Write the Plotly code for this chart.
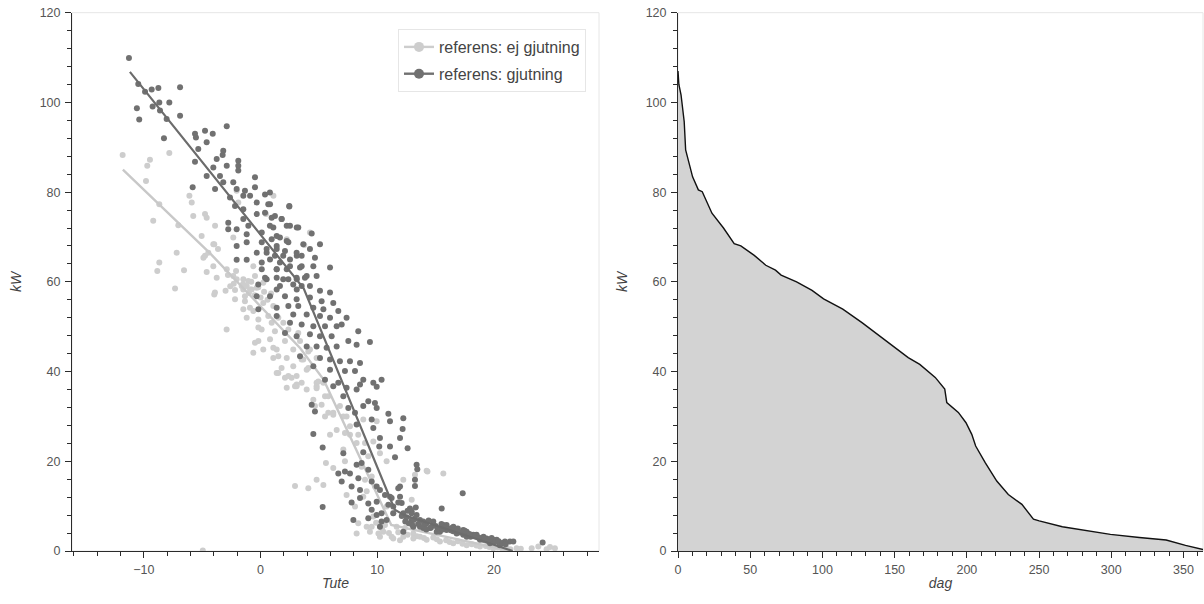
import plotly.graph_objects as go

# ---------------- data ----------------
# scatter: referens: gjutning (dark)  (Tute, kW)
gj_pts = [
    (-11.28,109.9),(-10.48,104.1),(-9.9,102.4),(-9.33,102.9),(-8.76,103.2),(-6.9,103.4),(-10.6,98.7),(-10.4,96.2),
    (-8.68,100.0),(-7.82,100.0),(-9.25,99.1),(-8.62,98.2),(-6.9,97.0),(-8.05,96.3),(-8.28,92.0),(-5.62,93.0),
    (-4.76,93.7),(-4.1,93.0),(-2.9,94.7),(-5.54,92.2),(-4.62,91.1),(-5.34,89.6),(-3.2,89.2),(-3.76,87.4),
    (-3.25,88.3),(-5.62,86.8),(-1.91,87.0),(-2.9,85.9),(-1.91,85.9),(-4.05,85.5),(-4.62,83.6),(-3.48,83.6),
    (-1.91,84.8),(-0.48,83.3),(-3.2,82.2),(-3.9,80.7),(-5.82,81.1),(-2.34,82.2),(-2.05,80.7),(-1.34,80.3),
    (-0.48,81.1),(-2.62,78.8),(-1.48,79.2),(-0.9,79.2),(0.38,79.5),(-0.33,77.7),(0.66,77.3),(0.8,79.9),
    (2.46,76.9),(-2.19,76.9),(-1.48,76.2),(-0.33,75.1),(0.38,75.4),(1.23,74.7),(-2.77,73.2),(-1.48,74.0),
    (-2.05,71.7),(-1.05,72.5),(-2.77,71.7),(1.81,74.0),(2.24,72.5),(3.1,72.1),(0.8,72.5),(-1.19,70.6),
    (0.1,71.0),(1.38,70.2),(-2.05,68.0),(-1.19,68.8),(0.1,68.8),(1.38,68.0),(2.24,69.1),(3.66,68.4),
    (-2.05,64.9),(-1.19,64.9),(-0.33,66.5),(0.52,66.5),(0.1,64.3),(1.23,65.8),(1.94,65.8),(3.1,65.8),
    (0.1,62.8),(1.38,62.8),(2.52,63.5),(3.52,63.5),(0.52,60.6),(1.94,60.6),(3.1,60.6),(3.95,61.3),
    (1.38,58.3),(3.1,58.3),(-0.2,59.4),
    (0.81,77.3),(2.46,76.8),(0.95,74.3),(1.8,74.0),(2.52,72.5),(3.23,72.1),(4.38,70.8),(1.09,72.1),
    (0.95,69.5),(1.66,69.9),(2.38,68.8),(5.09,68.4),(0.52,67.3),(1.38,67.3),(2.09,66.9),(3.09,66.5),
    (4.23,67.3),(0.81,65.0),(1.66,64.3),(2.52,65.0),(3.52,65.8),(4.66,65.4),(5.95,63.2),(1.38,62.8),
    (2.24,62.8),(3.38,63.2),(4.52,63.5),(0.38,60.9),(1.38,60.9),(2.38,60.6),(3.09,60.9),(3.8,60.9),
    (4.8,61.3),(1.66,59.1),(2.8,59.4),(3.52,59.1),(4.23,59.1),(5.09,58.0),(5.95,57.6),(-0.34,56.8),
    (0.81,56.8),(2.09,56.8),(3.09,56.1),(4.23,56.5),(5.23,55.7),(6.23,55.3),(-0.19,53.9),(1.38,54.2),
    (2.38,54.6),(3.23,54.6),(4.52,54.2),(5.38,53.9),(6.66,53.5),(7.37,52.0),(1.38,52.4),(2.8,52.7),
    (3.95,52.7),(5.09,52.4),(5.95,52.0),(2.52,50.9),(3.52,50.5),(4.52,50.1),(5.52,50.1),(6.52,50.1),
    (8.37,49.0),(6.95,50.5),(2.09,48.6),(3.09,47.9),(4.23,48.3),(5.09,47.9),(6.09,47.9),(7.52,46.8),
    (9.37,46.6),(8.23,46.0),(3.95,45.6),(4.8,45.6),(5.66,45.3),(6.52,45.6),(3.38,43.4),(5.09,43.0),
    (5.95,42.7),(6.8,42.3),(7.66,42.3),(8.52,41.9),(4.52,41.2),(5.95,40.4),(7.23,40.1),(8.09,40.1),
    (8.8,38.2),(9.66,37.5),(10.37,38.2),(6.66,37.5),(7.37,36.4),(8.23,36.0),(5.52,38.2),(6.23,36.7),
    (7.09,34.5),(8.52,37.1),(9.95,36.6),
    (4.52,26.1),(5.32,23.1),(5.32,9.8),(4.38,32.6),(4.66,31.1),(7.09,21.8),(7.23,17.7),(7.66,17.3),
    (6.66,17.3),(7.8,14.4),(6.95,15.5),(7.8,10.8),(7.95,6.9),(8.52,13.6),(8.23,19.2),(8.66,19.6),
    (8.8,22.0),(9.23,18.1),(9.23,10.6),(8.52,11.8),(8.38,16.2),(9.52,15.5),(9.95,14.4),(9.52,9.2),
    (9.95,8.0),(9.23,7.3),(10.37,8.4),(10.8,6.9),(10.23,5.4),(10.95,10.3),(11.23,11.8),(11.37,9.9),
    (11.95,12.1),(11.95,14.4),(11.8,14.0),(12.23,29.6),(10.95,30.6),(11.09,28.9),(12.17,27.2),(11.95,25.2),
    (12.6,22.9),(11.52,20.9),(11.09,23.3),(10.23,25.2),(10.17,23.3),(9.66,27.4),(9.52,29.3),(9.95,31.9),
    (9.23,33.4),(9.8,33.0),(8.8,32.3),(8.09,30.8),(8.23,28.2),(7.52,31.9),(13.37,19.2),(13.43,18.2),
    (13.23,15.9),(13.23,14.5),(15.52,9.5),(17.32,12.9),(11.8,10.8),(12.23,8.4),(12.95,8.8),(12.95,6.9),
    (13.66,6.9),(14.23,6.2),(14.8,5.8),(15.66,5.8),(16.52,5.4),(17.37,4.7),(18.23,3.6),(19.1,3.2),
    (19.94,2.5),(20.8,1.7),(21.37,2.1),(24.17,1.9),(13.09,5.4),(13.94,5.1),(15.09,4.3),(15.94,4.7),
    (16.8,3.9),(17.66,3.2),(18.8,2.5),(19.66,1.7),(20.5,1.3),(10.66,12.5),(10.23,13.6),(9.95,11.0),
    (11.09,12.1),
    (12.09,10.7),(12.8,9.5),(12.94,8.4),(13.37,8.0),(11.37,8.4),(13.09,6.9),(13.94,6.6),(14.8,6.6),
    (15.94,5.8),(16.8,4.7),(17.66,4.3),(18.51,3.6),(19.37,2.8),(20.23,2.5),(20.94,2.1),(21.66,2.1),
    (10.37,6.6),(12.23,4.3),(13.66,5.4),(14.51,5.1),(15.37,4.3),(16.37,5.1),(17.37,3.6),(19.08,2.5),
    (12.5,7.5),(12.7,6.2),(13.2,7.2),(13.5,6.0),(14.0,5.5),(14.4,6.8),(14.6,5.2),(15.2,5.0),
    (15.5,6.0),(15.8,5.3),(16.1,4.9),(16.5,4.4),(16.9,5.0),(17.1,4.1),(17.5,4.5),(17.9,3.8),
    (18.0,3.2),(18.4,3.4),(18.7,3.0),(19.2,2.8),(19.5,2.3),(19.8,2.9),(20.1,2.0),(20.4,2.2),
    (20.7,1.8),(21.0,1.5),(12.4,6.6),(13.0,5.8),(14.2,4.8),(15.0,5.6),(15.6,4.8),(16.3,4.6),
    (12.1,7.8),(12.6,9.0),(13.3,9.7),
]

# scatter: referens: ej gjutning (light)  (Tute, kW)
ej_pts = [
    (-11.82,88.3),(-9.48,87.2),(-9.71,85.9),(-7.82,88.7),(-9.82,82.5),(-8.68,77.3),(-9.2,73.6),(-7.05,72.6),
    (-6.1,79.2),(-5.9,77.7),(-5.77,74.7),(-4.76,75.1),(-4.62,74.3),(-3.9,72.5),(-5.05,70.2),(-4.05,68.4),
    (-7.19,66.5),(-8.68,64.3),(-8.85,62.4),(-6.56,62.6),(-4.9,65.4),(-4.48,66.5),(-4.62,62.2),(-3.76,60.9),
    (-7.33,58.5),(-2.9,62.8),(-2.1,62.4),(-2.05,60.6),(-1.48,60.6),(-0.62,63.5),(-0.48,61.3),(-2.19,58.2),
    (-1.19,59.1),(0.23,59.8),(-0.9,58.3),(2.24,69.5),(4.23,71.0),(1.1,79.2),(-3.97,57.2),(-3.65,67.3),
    (-3.97,68.4),(3.74,68.2),(0.46,75.1),
    (-2.05,80.3),(-1.91,77.7),(-2.34,69.9),(-2.34,61.3),(-1.05,60.2),(-1.62,59.1),(-0.76,58.3),(-0.34,58.7),
    (-1.34,56.8),(-2.19,56.1),(0.23,55.3),(-0.91,54.2),(1.09,54.6),(-1.48,53.9),(0.66,52.4),(1.52,52.0),
    (-1.19,52.0),(-0.19,51.6),(1.95,50.9),(0.95,50.9),(0.09,49.4),(1.23,49.0),(2.38,49.4),(3.23,48.6),
    (-0.19,46.8),(0.81,47.2),(2.09,46.8),(3.38,46.8),(0.23,44.9),(1.38,44.9),(2.8,44.9),(4.09,44.5),
    (-0.48,46.4),(-0.62,44.2),(1.09,43.0),(2.24,43.0),(3.52,42.7),(4.8,43.0),(2.8,41.2),(4.09,40.8),
    (1.52,39.7),(2.09,38.6),(2.66,38.6),(3.09,37.1),(3.95,36.0),(4.8,37.5),(5.52,34.5),
    (-4.76,65.8),(-4.05,63.5),(-3.91,57.6),(-2.91,49.4),(-1.48,58.3),(-1.34,55.7),(-0.62,53.5),(-0.19,49.8),
    (1.09,45.3),(1.52,43.4),(1.8,40.8),(1.38,39.7),(2.38,39.0),(3.09,39.0),(2.24,36.4),(2.95,36.7),
    (3.66,42.7),(3.95,40.4),(4.8,36.7),(4.52,33.7),(5.23,32.6),(5.8,34.5),(6.23,30.8),(5.52,30.0),
    (6.52,27.0),(7.37,30.0),(7.66,25.9),(8.23,24.1),(4.66,32.3),(4.95,37.8),(4.23,44.9),
    (2.95,14.5),(4.09,14.0),(4.8,15.9),(5.38,14.7),(6.23,18.5),(5.95,25.9),(7.09,22.6),(7.23,20.0),
    (8.95,24.1),(9.95,28.9),(10.23,21.8),(10.8,20.0),(12.23,15.9),(14.23,17.9),(15.66,17.3),(8.8,12.1),
    (7.37,12.5),(8.09,9.9),(8.37,6.2),(9.37,4.3),(9.52,5.4),(10.23,3.2),(11.23,3.2),(11.95,2.4),
    (12.95,11.4),(3.09,36.7),(3.52,37.5),(5.38,37.5),(4.8,36.3),(5.8,30.8),(6.23,30.4),(6.8,32.3),
    (7.09,30.0),(7.66,27.8),(8.37,25.9),(8.8,29.3),(9.66,24.4),(7.23,26.3),(9.23,21.1),(9.52,16.6),
    (8.95,15.9),(9.8,14.4),(8.66,18.8),(9.09,13.3),(10.8,9.9),(11.37,8.4),(9.66,7.7),(9.09,5.4),
    (8.23,3.9),(10.52,4.3),(11.66,5.4),(12.37,5.1),(13.09,3.9),(13.66,3.2),(5.6,19.6),(-4.95,0.1),
    (11.37,2.8),(12.23,3.2),(13.09,2.8),(14.23,2.5),(15.37,2.1),(16.51,1.7),(17.66,1.3),(18.8,1.0),
    (19.94,0.6),(21.08,0.6),(21.94,0.6),(23.23,0.6),(24.51,0.4),(25.22,0.6),(14.3,17.7),(13.23,17.0),
    (10.66,5.8),(11.8,4.2),(12.6,3.6),(13.4,3.3),(14.0,2.9),(14.8,3.0),(15.1,2.6),(15.9,2.4),
    (16.2,2.0),(16.9,2.2),(17.3,1.6),(18.1,1.5),(18.5,1.2),(19.3,1.1),(19.6,0.9),(20.3,0.8),
    (20.7,0.5),(21.4,0.4),(22.3,0.5),(23.8,1.0),(24.8,0.9),(11.0,4.0),(10.4,5.0),(9.9,6.3),(10.1,3.9),
    (-1.0,57.5),(-0.5,57.0),(0.0,56.5),(0.3,57.8),(-0.2,58.8),(0.6,56.0),(-1.5,59.5),(-2.3,59.6),
    (0.9,57.4),(-0.8,60.0),(-2.6,59.0),(-3.0,58.0),(-2.8,61.5),
]

tute_gj = [p[0] for p in gj_pts]
kw_gj = [p[1] for p in gj_pts]
tute_ej = [p[0] for p in ej_pts]
kw_ej = [p[1] for p in ej_pts]

# fitted reference lines (vertices)
fit_ej_tute = [-11.8, -4.3, 3.4, 5.4, 11.2, 21.5]
fit_ej_kw = [85.0, 66.3, 45.2, 38.2, 5.8, 0.0]
fit_gj_tute = [-11.2, 3.7, 11.5, 12.3, 21.6]
fit_gj_kw = [106.8, 58.5, 9.2, 8.0, 0.0]

# duration curve (dag, kW)
dag = [0, 0.6, 2.1, 4.3, 5.3, 10.1, 14.1, 16.8, 23.5, 31.5, 38.9, 43.5, 52.8, 60.8, 67.5, 71.4,
       82.1, 92.8, 100.8, 114.1, 127.4, 138.1, 148.8, 159.4, 167.4, 178.1, 184.7, 186.1, 194.1,
       199.4, 203.4, 206.1, 212.7, 220.7, 228.7, 238.1, 246.1, 250.1, 266.1, 282, 299.4, 319.4,
       338, 351.4, 364]
kw_dur = [107.0, 104.0, 101.7, 95.7, 89.4, 83.4, 80.5, 80.1, 75.3, 72.0, 68.5, 68.0, 65.9, 63.7,
          62.6, 61.5, 60.0, 58.1, 56.2, 53.9, 50.9, 48.3, 45.7, 43.1, 41.6, 38.7, 36.1, 33.1, 30.9,
          28.6, 26.0, 23.4, 19.7, 15.6, 12.6, 10.4, 7.1, 6.7, 5.4, 4.6, 3.7, 3.0, 2.45, 1.26, 0.3]

names = ["referens: ej gjutning", "referens: gjutning"]

# ---------------- styles ----------------
LIGHT = "#cdcdcd"
DARK = "#717171"
AXC = "#2b2b2b"
TXT = "#444444"
FONT = "Liberation Sans, Arial, Helvetica, sans-serif"

fig = go.Figure()

fig.add_trace(go.Scatter(x=tute_ej, y=kw_ej, mode="markers", showlegend=False,
                         marker=dict(color=LIGHT, size=6), xaxis="x", yaxis="y", hoverinfo="skip"))
fig.add_trace(go.Scatter(x=fit_ej_tute, y=fit_ej_kw, mode="lines", showlegend=False,
                         line=dict(color="#c8c8c8", width=2.4), xaxis="x", yaxis="y"))
fig.add_trace(go.Scatter(x=tute_gj, y=kw_gj, mode="markers", showlegend=False,
                         marker=dict(color=DARK, size=6), xaxis="x", yaxis="y", hoverinfo="skip"))
fig.add_trace(go.Scatter(x=fit_gj_tute, y=fit_gj_kw, mode="lines", showlegend=False,
                         line=dict(color="#6c6c6c", width=2.2), xaxis="x", yaxis="y"))

# legend entries (line + circle glyph)
for nm, col, grp in [(names[0], LIGHT, "a"), (names[1], DARK, "b")]:
    fig.add_trace(go.Scatter(x=[None], y=[None], mode="lines+markers", name=nm, legendgroup=grp,
                             line=dict(color=col, width=2.4), marker=dict(color=col, size=10),
                             xaxis="x", yaxis="y"))

fig.add_trace(go.Scatter(x=dag, y=kw_dur, mode="lines", fill="tozeroy", fillcolor="#d3d3d3",
                         line=dict(color="#111111", width=1.4), showlegend=False,
                         xaxis="x2", yaxis="y2"))

ydom = [1 - 551 / 604, 1 - 12.7 / 604]


def axis_common(**kw):
    d = dict(showgrid=False, zeroline=False, showline=True, linecolor=AXC, linewidth=1,
             ticks="outside", ticklen=6, tickwidth=1, tickcolor=AXC, automargin=False,
             tickfont=dict(size=12.5, color="#555555", family=FONT),
             title_font=dict(size=14, color=TXT, family=FONT, style="italic"))
    d.update(kw)
    return d


minor_common = dict(ticks="outside", ticklen=4, tickwidth=1, tickcolor=AXC, showgrid=False)

fig.update_layout(
    width=1204, height=604,
    margin=dict(l=0, r=0, t=0, b=0),
    paper_bgcolor="white", plot_bgcolor="white",
    font=dict(family=FONT, color=TXT),
    xaxis=axis_common(domain=[72 / 1204, 599 / 1204], range=[-16.16, 29.0], anchor="y",
                      tick0=0, dtick=10, minor=dict(dtick=2, **minor_common),
                      ticklabelstandoff=1,
                      title=dict(text="Tute", standoff=2)),
    yaxis=axis_common(domain=ydom, range=[0, 120], anchor="x", tick0=0, dtick=20,
                      minor=dict(dtick=4, **minor_common), ticklabelstandoff=2,
                      title=dict(text="kW", standoff=14)),
    xaxis2=axis_common(domain=[678 / 1204, 1203 / 1204], range=[0, 363.5], anchor="y2",
                       tick0=0, dtick=50, minor=dict(dtick=10, **minor_common),
                       ticklabelstandoff=1,
                       title=dict(text="dag", standoff=2)),
    yaxis2=axis_common(domain=ydom, range=[0, 120], anchor="x2", tick0=0, dtick=20,
                       minor=dict(dtick=4, **minor_common), ticklabelstandoff=2,
                       title=dict(text="kW", standoff=14)),
    legend=dict(x=586 / 1204, xanchor="right", y=1 - 29 / 604, yanchor="top",
                bgcolor="white", bordercolor="#e6e6e6", borderwidth=1,
                font=dict(size=16, color=TXT, family=FONT),
                traceorder="grouped", tracegroupgap=3),
    shapes=[
        dict(type="rect", xref="x domain", yref="y domain", x0=0, x1=1, y0=0, y1=1,
             line=dict(color="#e6e6e6", width=1), layer="below"),
        dict(type="rect", xref="x2 domain", yref="y2 domain", x0=0, x1=1, y0=0, y1=1,
             line=dict(color="#e6e6e6", width=1), layer="below"),
    ],
)

fig.write_html("out.html", config={"displayModeBar": False},
               post_script="document.body.style.margin='0';document.body.style.overflow='hidden';")
